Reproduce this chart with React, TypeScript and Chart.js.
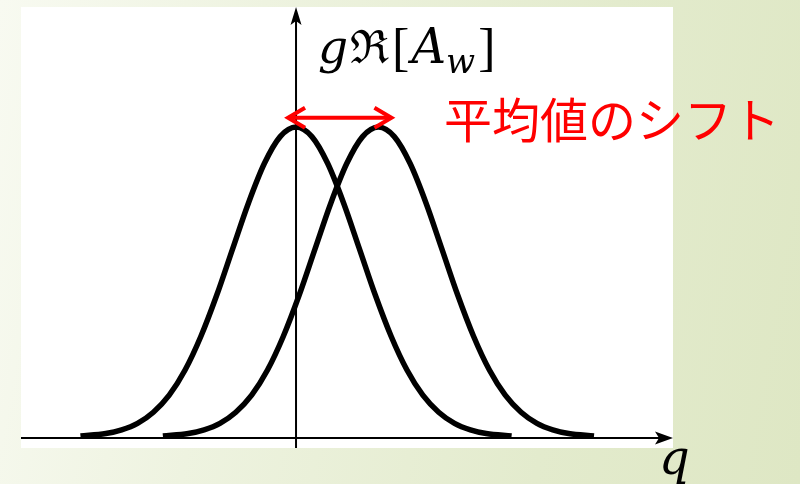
import React, { useEffect, useRef } from "react";
import { Chart, registerables } from "chart.js";

Chart.register(...registerables);

// q positions (in units of curve width) and read heights
const leftQ = [-3.4, -3.0, -2.75, -2.5, -2.25, -2.0, -1.75, -1.5, -1.25, -1.0, -0.75, -0.5, -0.25, 0, 0.25, 0.5, 0.75, 1.0, 1.25, 1.5, 1.75, 2.0, 2.25, 2.5, 2.75, 3.0, 3.4];
const leftVals = [0.003, 0.011, 0.023, 0.044, 0.08, 0.135, 0.216, 0.325, 0.458, 0.607, 0.755, 0.882, 0.969, 1.0, 0.969, 0.882, 0.755, 0.607, 0.458, 0.325, 0.216, 0.135, 0.08, 0.044, 0.023, 0.011, 0.003];
const rightQ = [-2.1, -1.7, -1.45, -1.2, -0.95, -0.7, -0.45, -0.2, 0.05, 0.3, 0.55, 0.8, 1.05, 1.3, 1.55, 1.8, 2.05, 2.3, 2.55, 2.8, 3.05, 3.3, 3.55, 3.8, 4.05, 4.3, 4.7];
const rightVals = [0.003, 0.011, 0.023, 0.044, 0.08, 0.135, 0.216, 0.325, 0.458, 0.607, 0.755, 0.882, 0.969, 1.0, 0.969, 0.882, 0.755, 0.607, 0.458, 0.325, 0.216, 0.135, 0.08, 0.044, 0.023, 0.011, 0.003];
const shiftFrom = 0;
const shiftTo = 1.3;
const shiftLevel = 1.03;

const yLabel = { g: "g", re: "ℜ", open: "[", a: "A", sub: "w", close: "]" };
const xLabel = "q";
const shiftText = "平均値のシフト";

const toPts = (xs: number[], ys: number[]) => xs.map((x, i) => ({ x, y: ys[i] }));

export default function App() {
  const ref = useRef<HTMLCanvasElement>(null);
  useEffect(() => {
    const canvas = ref.current!;
    const decor = {
      id: "decor",
      beforeDraw(chart: any) {
        const { ctx, chartArea } = chart;
        ctx.save();
        ctx.fillStyle = "#ffffff";
        ctx.fillRect(chartArea.left, chartArea.top, chartArea.right - chartArea.left, chartArea.bottom - chartArea.top);
        const xs = chart.scales.x;
        const ys = chart.scales.y;
        const x0 = xs.getPixelForValue(0);
        const y0 = ys.getPixelForValue(0) + 1;
        ctx.strokeStyle = "#000";
        ctx.fillStyle = "#000";
        ctx.lineWidth = 2;
        // x axis
        ctx.beginPath();
        ctx.moveTo(chartArea.left, y0);
        ctx.lineTo(chartArea.right - 8, y0);
        ctx.stroke();
        ctx.beginPath();
        ctx.moveTo(chartArea.right, y0);
        ctx.lineTo(chartArea.right - 18, y0 - 6.5);
        ctx.lineTo(chartArea.right - 14, y0);
        ctx.lineTo(chartArea.right - 18, y0 + 6.5);
        ctx.closePath();
        ctx.fill();
        // y axis
        ctx.beginPath();
        ctx.moveTo(x0, chartArea.bottom);
        ctx.lineTo(x0, chartArea.top + 8);
        ctx.stroke();
        ctx.beginPath();
        ctx.moveTo(x0, chartArea.top);
        ctx.lineTo(x0 - 5.5, chartArea.top + 18);
        ctx.lineTo(x0, chartArea.top + 14);
        ctx.lineTo(x0 + 5.5, chartArea.top + 18);
        ctx.closePath();
        ctx.fill();
        ctx.restore();
      },
      afterDraw(chart: any) {
        const { ctx, chartArea } = chart;
        const xs = chart.scales.x;
        const ys = chart.scales.y;
        ctx.save();
        // red double arrow
        const ax1 = xs.getPixelForValue(shiftFrom) - 9;
        const ax2 = xs.getPixelForValue(shiftTo) + 14;
        const ay = ys.getPixelForValue(shiftLevel);
        ctx.strokeStyle = "#ff0000";
        ctx.lineWidth = 4;
        ctx.lineCap = "butt";
        ctx.beginPath();
        ctx.moveTo(ax1 + 2, ay);
        ctx.lineTo(ax2 - 2, ay);
        ctx.stroke();
        ctx.beginPath();
        ctx.moveTo(ax1 + 18, ay - 10);
        ctx.lineTo(ax1 + 1, ay);
        ctx.lineTo(ax1 + 18, ay + 10);
        ctx.moveTo(ax2 - 18, ay - 10);
        ctx.lineTo(ax2 - 1, ay);
        ctx.lineTo(ax2 - 18, ay + 10);
        ctx.stroke();
        // red text
        ctx.fillStyle = "#ff0000";
        ctx.font = '48px "Noto Sans CJK JP"';
        ctx.textBaseline = "middle";
        ctx.textAlign = "left";
        ctx.fillText(shiftText, 444, 120);
        // y label
        ctx.fillStyle = "#000";
        ctx.textBaseline = "alphabetic";
        let x = 318;
        const base = 63;
        const parts: [string, string, number, number][] = [
          [yLabel.g, 'italic 47px "DejaVu Serif"', 0, 2],
          [yLabel.re, '46px "DejaVu Serif"', 0, 3],
          [yLabel.open, '52px "Liberation Serif"', 2, 2],
          [yLabel.a, 'italic 48px "DejaVu Serif"', 0, 0],
          [yLabel.sub, 'italic 34px "DejaVu Serif"', 10, 3],
          [yLabel.close, '52px "Liberation Serif"', 2, 0],
        ];
        for (const [t, f, dy, gap] of parts) {
          ctx.font = f;
          ctx.fillText(t, x, base + dy);
          x += ctx.measureText(t).width + gap;
        }
        // x label
        ctx.font = 'italic 48px "DejaVu Serif"';
        ctx.fillText(xLabel, chartArea.right - 14, 474);
        ctx.restore();
      },
    };
    const chart = new Chart(canvas, {
      type: "scatter",
      data: {
        datasets: [
          { data: toPts(leftQ, leftVals), showLine: true, borderColor: "#000", borderWidth: 5.5, pointRadius: 0, cubicInterpolationMode: "monotone", borderCapStyle: "butt" },
          { data: toPts(rightQ, rightVals), showLine: true, borderColor: "#000", borderWidth: 5.5, pointRadius: 0, cubicInterpolationMode: "monotone", borderCapStyle: "butt" },
        ],
      } as any,
      options: {
        animation: false,
        responsive: false,
        layout: { padding: { left: 21, right: 127, top: 7, bottom: 36 } },
        plugins: { legend: { display: false }, tooltip: { enabled: false } },
        scales: {
          x: { type: "linear", min: -4.338, max: 5.946, display: false },
          y: { type: "linear", min: -0.0355, max: 1.387, display: false },
        },
      },
      plugins: [decor],
    });
    return () => chart.destroy();
  }, []);
  return (
    <div
      style={{
        position: "fixed",
        left: 0,
        top: 0,
        width: 800,
        height: 484,
        background: "linear-gradient(100deg, #f8faf1 0%, #eef3e0 30%, #e3ebcd 70%, #dee7c4 100%)",
      }}
    >
      <canvas ref={ref} width={800} height={484} style={{ display: "block", width: 800, height: 484 }} />
    </div>
  );
}
